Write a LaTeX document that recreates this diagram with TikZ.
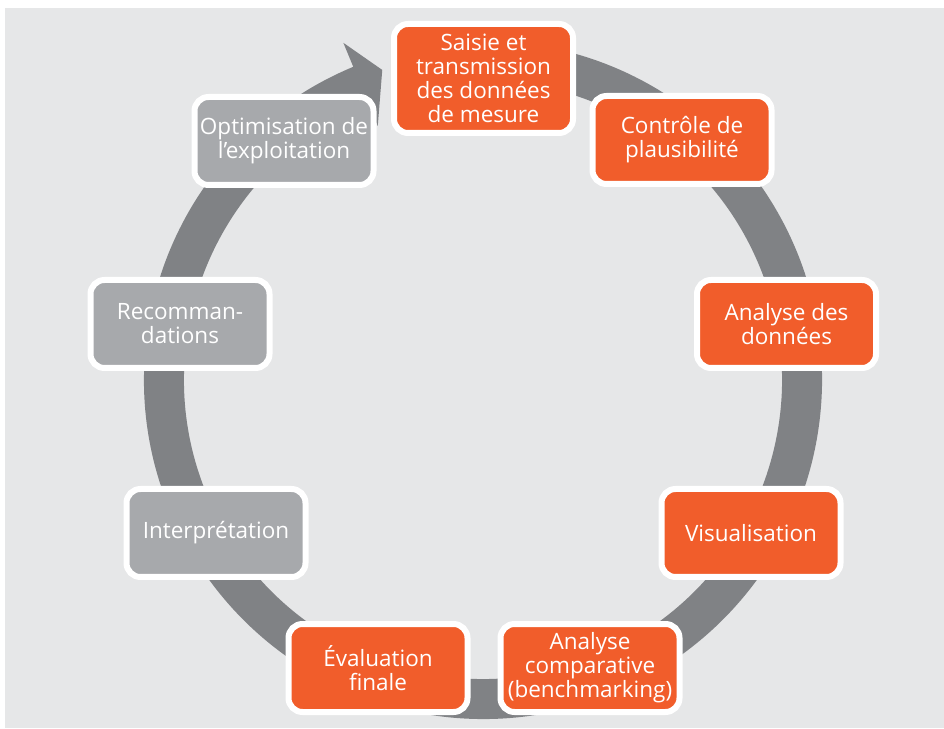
\documentclass[tikz,border=0pt]{standalone}
\usepackage{fontspec}
\setmainfont{Open Sans}
\usetikzlibrary{calc}
\definecolor{bgray}{HTML}{E6E7E8}
\definecolor{ringgray}{HTML}{808285}
\definecolor{boxorange}{HTML}{F15D2B}
\definecolor{boxgray}{HTML}{A7A9AC}
\tikzset{
  stepbox/.style={draw=white, line width=6pt, rounded corners=14pt, text=white,
    align=center, inner sep=0pt, minimum width=179pt, minimum height=88pt,
    font=\fontsize{22.5}{24}\selectfont},
  orangebox/.style={stepbox, fill=boxorange},
  graybox/.style={stepbox, fill=boxgray}
}
\begin{document}
\begin{tikzpicture}[x=1pt,y=1pt]
\useasboundingbox (0,0) rectangle (944,728);
\fill[white] (0,0) rectangle (944,728);
\fill[bgray] (5,0) rectangle (944,720);
% ring with arrowhead
\coordinate (c) at (483,348);
\fill[ringgray] ($(c)+(80:339)$) arc[start angle=80, end angle=-247.5, radius=339]
  -- ($(c)+(-247.5:365)$) -- ($(c)+(-252:326)$) -- ($(c)+(-247.5:275)$)
  -- ($(c)+(-247.5:299)$) arc[start angle=-247.5, end angle=80, radius=299] -- cycle;
% boxes
\node[orangebox, minimum width=179pt, minimum height=109pt] (s1) at (483.5,649.5) {Saisie et\\transmission\\des données\\de mesure};
\node[orangebox] (s2) at (682,588) {Contrôle de\\plausibilité};
\node[orangebox] (s3) at (786.5,404) {Analyse des\\données};
\node[orangebox] (s4) at (751,195) {Visualisation};
\node[orangebox] (s5) at (590,60) {Analyse\\comparative\\(benchmarking)};
\node[orangebox] (s6) at (378,60) {Évaluation\\finale};
\node[graybox] (s7) at (216,195) {Interprétation};
\node[graybox] (s8) at (180,404) {Recomman-\\dations};
\node[graybox] (s9) at (284,587) {Optimisation de\\l’exploitation};
\end{tikzpicture}
\end{document}
